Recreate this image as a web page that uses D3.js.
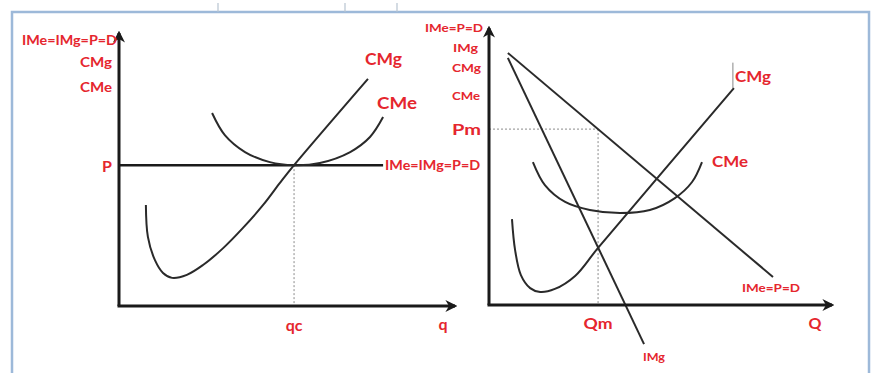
<!DOCTYPE html>
<html>
<head>
<meta charset="utf-8">
<script src="https://cdn.jsdelivr.net/npm/d3@7"></script>
<style>
html,body{margin:0;padding:0;background:#fff;}
svg{display:block;}
text{font-family:Lato,"Open Sans",sans-serif;font-weight:bold;fill:#e5262e;}
</style>
</head>
<body>
<svg id="c" width="874" height="373"></svg>
<script>
// ---------- DATA (units 0..100 on each axis) ----------
// Left panel: perfect competition
const leftCMg = [[8.0,37.0],[8.6,25.3],[10.7,16.8],[13.1,12.1],[15.8,10.3],[20.2,11.4],[25.0,15.0],[31.0,21.2],[36.9,28.6],[42.9,37.0],[47.9,45.1],[52.1,51.6],[74.1,83.2]];
const leftCMe = [[27.7,70.7],[31.5,62.6],[37.5,56.4],[44.9,52.7],[52.1,51.6],[59.8,52.4],[68.8,56.4],[74.7,61.9],[78.6,69.2]];
const leftP = 51.6, leftQc = 52.1, leftPEnd = 78.6;
const leftYLabels = ["IMe=IMg=P=D","CMg","CMe"];
// Right panel: monopoly
const rightDemand = [[5.5,91.0],[82.8,10.1]];
const rightIMg = [[5.5,89.2],[45.2,-14.1]];
const rightCMg = [[6.7,31.0],[7.6,19.9],[9.3,10.8],[12.0,6.1],[14.9,4.7],[19.2,5.8],[25.1,10.5],[31.8,20.6],[71.4,78.3]];
const rightCMe = [[12.8,51.6],[16.3,43.3],[22.2,37.2],[29.4,34.3],[38.2,33.2],[46.9,34.3],[54.2,38.6],[59.2,44.4],[62.1,51.6]];
const rightPm = 63.5, rightQm = 31.8;
const rightYLabels = ["IMe=P=D","IMg","CMg","CMe"];

const svg = d3.select("#c");

// frame
svg.append("rect").attr("x",12).attr("y",12).attr("width",857).attr("height",372)
  .attr("fill","#fff").attr("stroke","#9db9d9").attr("stroke-width",2.5);
[218,345,397].forEach(x=>svg.append("line").attr("x1",x).attr("x2",x).attr("y1",3).attr("y2",12).attr("stroke","#b8c4d0").attr("stroke-width",1.2));

const defs = svg.append("defs");
defs.append("marker").attr("id","arr").attr("viewBox","0 0 10 10").attr("refX",8).attr("refY",5)
  .attr("markerWidth",4).attr("markerHeight",4).attr("orient","auto")
  .append("path").attr("d","M0,0 L10,5 L0,10 L3,5 Z").attr("fill","#1a1a1a");

function panel(xr, yr){
  const x = d3.scaleLinear().domain([0,100]).range(xr);
  const y = d3.scaleLinear().domain([0,100]).range(yr);
  const g = svg.append("g");
  return {x,y,g,line:d3.line().curve(d3.curveCatmullRom.alpha(0.5)).x(d=>x(d[0])).y(d=>y(d[1]))};
}
function axes(p){
  const {x,y,g}=p;
  g.append("line").attr("x1",x(0)).attr("y1",y(0)).attr("x2",x(0)).attr("y2",y(100))
    .attr("stroke","#1a1a1a").attr("stroke-width",3).attr("marker-end","url(#arr)");
  g.append("line").attr("x1",x(0)-1.5).attr("y1",y(0)).attr("x2",x(100)).attr("y2",y(0))
    .attr("stroke","#1a1a1a").attr("stroke-width",3).attr("marker-end","url(#arr)");
}
function dashed(g,x1,y1,x2,y2){
  g.append("line").attr("x1",x1).attr("y1",y1).attr("x2",x2).attr("y2",y2)
    .attr("stroke","#8a8a8a").attr("stroke-width",1).attr("stroke-dasharray","2,2");
}
function path(p,data,w){
  p.g.append("path").attr("d",p.line(data)).attr("fill","none").attr("stroke","#2a2a2a").attr("stroke-width",w||2);
}
function label(t,x,y,size,anchor,len){
  const el = svg.append("text").attr("x",x).attr("y",y).attr("font-size",size).attr("text-anchor",anchor||"start")
    .attr("dominant-baseline","central").text(t);
  if(len) el.attr("textLength",len).attr("lengthAdjust","spacingAndGlyphs");
}

// ---------- LEFT ----------
const L = panel([119,455],[306,33]);
dashed(L.g,L.x(leftQc),L.y(leftP),L.x(leftQc),L.y(0));
L.g.append("line").attr("x1",L.x(0)).attr("x2",L.x(leftPEnd)).attr("y1",L.y(leftP)).attr("y2",L.y(leftP))
  .attr("stroke","#1a1a1a").attr("stroke-width",2.5);
path(L,leftCMe);
path(L,leftCMg);
axes(L);
label(leftYLabels[0],22,40,12.5,"start",95);
label(leftYLabels[1],80,62,12.5,"start",32);
label(leftYLabels[2],80,87,12.5,"start",32);
label("P",L.x(0)-7,L.y(leftP),16,"end");
label("IMe=IMg=P=D",L.x(leftPEnd)+2,L.y(leftP),12.5,"start",95);
label("CMg",365,58,17,"start",37);
label("CMe",377,102,17,"start",40);
label("qc",L.x(leftQc),324,16,"middle");
label("q",443,323,16,"middle");

// ---------- RIGHT ----------
const R = panel([489,832],[305,28]);
dashed(R.g,R.x(0),R.y(rightPm),R.x(rightQm),R.y(rightPm));
dashed(R.g,R.x(rightQm),R.y(rightPm),R.x(rightQm),R.y(0));
path(R,rightDemand);
path(R,rightIMg);
path(R,rightCMe);
path(R,rightCMg);
R.g.append("line").attr("x1",R.x(71.4)-1).attr("x2",R.x(71.4)-1).attr("y1",R.y(78.3)).attr("y2",R.y(87.5))
  .attr("stroke","#888").attr("stroke-width",1);
axes(R);
label(rightYLabels[0],425,27,12,"start",58);
label(rightYLabels[1],453,47,12,"start",25);
label(rightYLabels[2],452,67,12,"start",29);
label(rightYLabels[3],452,95,12,"start",28);
label("Pm",452,128,16,"start",29);
label("CMg",735,75,16,"start",36);
label("CMe",712,160,16,"start",36);
label("IMe=P=D",742,287,12,"start",58);
label("Qm",R.x(rightQm),322,16,"middle",29);
label("Q",815,322,16,"middle");
label("IMg",643,356,12,"start",22);
</script>
</body>
</html>
